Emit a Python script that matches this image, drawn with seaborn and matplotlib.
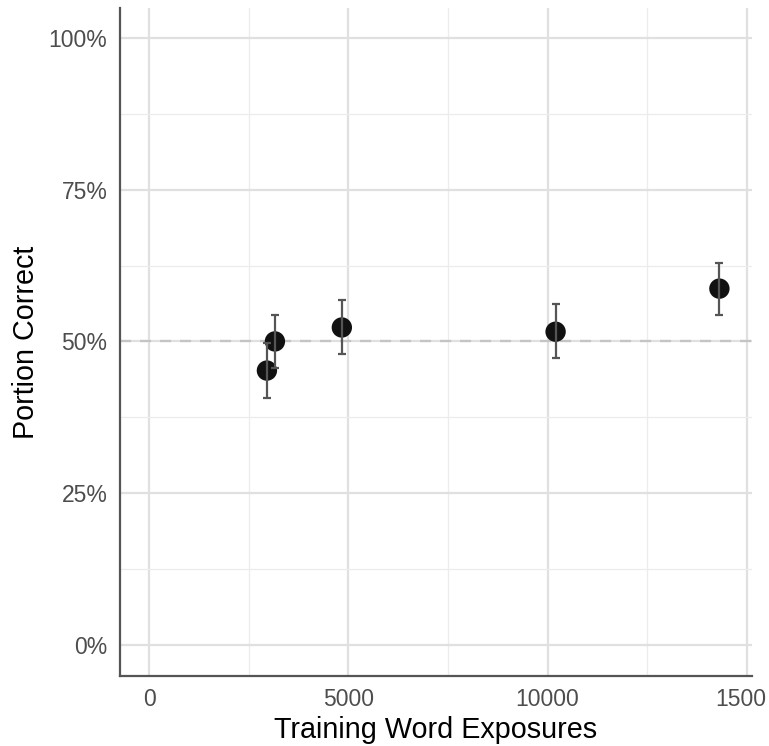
import matplotlib
matplotlib.use("Agg")
import matplotlib.pyplot as plt
from matplotlib.ticker import MultipleLocator, PercentFormatter
from matplotlib.transforms import ScaledTranslation
import pandas as pd
import seaborn as sns

# values
exposures = [2957, 3158, 4837, 10200, 14310]
portion = [0.452, 0.500, 0.523, 0.516, 0.587]
err_low = [0.407, 0.456, 0.480, 0.472, 0.544]
err_high = [0.498, 0.544, 0.569, 0.561, 0.630]

x_ticks = [0, 5000, 10000, 15000]
# the last label is shown truncated in the reference
x_labels = ["0", "5000", "10000", "1500"]
y_ticks = [0, 0.25, 0.5, 0.75, 1.0]

df = pd.DataFrame({"exposures": exposures, "portion": portion,
                   "lo": err_low, "hi": err_high})

sns.set_style("white")
plt.rcParams['font.family'] = ['Liberation Sans', 'DejaVu Sans']

fig = plt.figure(figsize=(7.69, 7.46), dpi=100)
ax = fig.add_axes([0.156, 0.094, 0.822, 0.895])

# grid like ggplot theme_classic + grid
ax.xaxis.set_minor_locator(MultipleLocator(2500))
ax.yaxis.set_minor_locator(MultipleLocator(0.125))
ax.grid(which='major', color='#e0e0e0', linewidth=1.6, zorder=0)
ax.grid(which='minor', color='#ececec', linewidth=0.9, zorder=0)
ax.set_axisbelow(True)

ax.axhline(0.5, color='#c4c4c4', linestyle=(0, (5, 4)), linewidth=1.6, zorder=1)

sns.scatterplot(data=df, x="exposures", y="portion", s=215, color='#111111',
                edgecolor='none', ax=ax, zorder=3)
ax.errorbar(df["exposures"], df["portion"],
            yerr=[df["portion"] - df["lo"], df["hi"] - df["portion"]],
            fmt='none', ecolor='#555555', elinewidth=1.6, capsize=2.8,
            capthick=1.6, zorder=4)

ax.set_xlim(-730, 15130)
ax.set_ylim(-0.051, 1.049)
ax.set_xticks(x_ticks)
ax.set_xticklabels(x_labels)
ax.set_yticks(y_ticks)
ax.yaxis.set_major_formatter(PercentFormatter(1.0, decimals=0))

for s in ['top', 'right']:
    ax.spines[s].set_visible(False)
for s in ['left', 'bottom']:
    ax.spines[s].set_color('#555555')
    ax.spines[s].set_linewidth(1.6)

ax.tick_params(which='major', length=5, width=1.6, color='#555555',
               labelsize=16.5, labelcolor='#4d4d4d', pad=4)
ax.tick_params(which='minor', length=0)

last = ax.get_xticklabels()[-1]
last.set_transform(last.get_transform() + ScaledTranslation(-6 / 100, 0, fig.dpi_scale_trans))

ax.set_xlabel("Training Word Exposures", fontsize=20.7, color='black', labelpad=3)
ax.set_ylabel("Portion Correct", fontsize=20.7, color='black', labelpad=6)

fig.savefig("out.png", dpi=100)
